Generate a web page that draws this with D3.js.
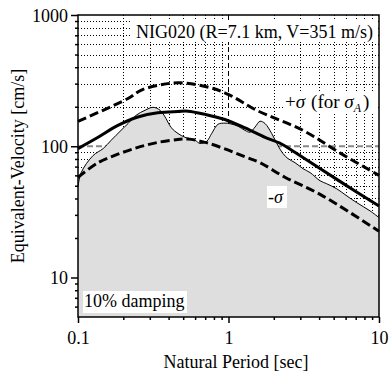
<!DOCTYPE html>
<html>
<head>
<meta charset="utf-8">
<script src="https://cdn.jsdelivr.net/npm/d3@7"></script>
<style>
  body { margin: 0; background: #fff; }
  svg { display: block; }
  text { font-family: "Liberation Serif", "Times New Roman", serif; font-size: 18px; fill: #000; }
</style>
</head>
<body>
<svg id="chart" width="389" height="376"></svg>
<script>
// observed spectrum (thin line, grey fill below it)
const obsPeriod = [0.1, 0.105, 0.126, 0.147, 0.166, 0.193, 0.215, 0.243, 0.279, 0.315, 0.351, 0.384, 0.415, 0.462, 0.514, 0.599, 0.647, 0.716, 0.773, 0.851, 0.948, 1.023, 1.157, 1.288, 1.39, 1.5, 1.619, 1.749, 1.937, 2.133, 2.302, 2.485, 2.766, 3.126, 3.483, 4.056, 4.49, 5.24, 6.10, 7.11, 8.71, 10];
const obsVel = [49, 63, 85, 96, 111, 132, 149, 172, 188, 198, 188, 163, 139, 125, 117, 111, 105, 109, 125, 147, 150, 148.5, 142, 132, 128, 140, 155, 149, 125, 101, 88, 80.5, 75, 67.5, 63, 54.6, 51.8, 47.4, 41.9, 37.2, 32.2, 28.6];

// median prediction (thick solid)
const medPeriod = [0.1, 0.136, 0.184, 0.25, 0.339, 0.461, 0.538, 0.70, 0.947, 1.29, 1.75, 2.25, 2.76, 5.5, 10];
const medVel = [96, 117, 144, 167, 180, 184, 185, 175, 160, 138, 117, 104, 90, 54, 35];

// +sigma (for sigma_A), dashed
const upPeriod = [0.1, 0.215, 0.262, 0.351, 0.476, 0.752, 1.02, 1.535, 3.13, 5.49, 10];
const upVel = [155, 231, 267, 293, 304, 280, 245, 188, 132, 89, 60];

// -sigma, dashed
const loPeriod = [0.1, 0.136, 0.184, 0.25, 0.339, 0.461, 0.538, 0.70, 0.947, 1.29, 1.62, 2.37, 4.06, 10];
const loVel = [58, 75, 87, 98, 107, 112.5, 113.5, 107, 95.5, 83, 75, 58, 43, 22.5];

const xMajor = [0.1, 1, 10];
const yMajor = [10, 100, 1000];
const xMinor = [0.2, 0.3, 0.4, 0.5, 0.6, 0.7, 0.8, 0.9, 2, 3, 4, 5, 6, 7, 8, 9];
const yMinor = [6, 7, 8, 9, 20, 30, 40, 50, 60, 70, 80, 90, 200, 300, 400, 500, 600, 700, 800, 900];

const pLeft = 78, pRight = 379, pTop = 15, pBottom = 317;

const svg = d3.select('#chart');

const x = d3.scaleLog().domain([0.1, 10]).range([pLeft, pRight]);
const y = d3.scaleLog().domain([5, 1000]).range([pBottom, pTop]);

const zip = (a, b) => a.map((d, i) => ({ t: d, v: b[i] }));

// grid
const grid = svg.append('g');
grid.selectAll('.gx')
  .data(xMinor)
  .enter().append('line')
    .attr('x1', d => Math.round(x(d)) + 0.5).attr('x2', d => Math.round(x(d)) + 0.5)
    .attr('y1', pTop).attr('y2', pBottom)
    .attr('stroke', '#000').attr('stroke-width', 1)
    .attr('stroke-dasharray', '1,2');
grid.selectAll('.gy')
  .data(yMinor)
  .enter().append('line')
    .attr('x1', pLeft).attr('x2', pRight)
    .attr('y1', d => Math.round(y(d)) + 0.5).attr('y2', d => Math.round(y(d)) + 0.5)
    .attr('stroke', '#000').attr('stroke-width', 1)
    .attr('stroke-dasharray', '1,2');
grid.append('line')
    .attr('x1', x(1)).attr('x2', x(1))
    .attr('y1', pTop).attr('y2', pBottom)
    .attr('stroke', '#000').attr('stroke-width', 1)
    .attr('stroke-dasharray', '5,3');
grid.append('line')
    .attr('x1', pLeft).attr('x2', pRight)
    .attr('y1', y(100)).attr('y2', y(100))
    .attr('stroke', '#888').attr('stroke-width', 2)
    .attr('stroke-dasharray', '6,3');

// observed: grey area + thin line
const obs = zip(obsPeriod, obsVel);
const area = d3.area()
  .x(d => x(d.t))
  .y0(pBottom)
  .y1(d => y(d.v))
  .curve(d3.curveCatmullRom.alpha(0.5));
svg.append('path')
  .datum(obs)
  .attr('d', area)
  .attr('fill', '#dedede');

const line = d3.line()
  .x(d => x(d.t))
  .y(d => y(d.v))
  .curve(d3.curveCatmullRom.alpha(0.5));

svg.append('path')
  .datum(obs)
  .attr('d', line)
  .attr('fill', 'none')
  .attr('stroke', '#000')
  .attr('stroke-width', 1);

svg.append('path')
  .datum(zip(medPeriod, medVel))
  .attr('d', line)
  .attr('fill', 'none')
  .attr('stroke', '#000')
  .attr('stroke-width', 3);

[zip(upPeriod, upVel), zip(loPeriod, loVel)].forEach(s => {
  svg.append('path')
    .datum(s)
    .attr('d', line)
    .attr('fill', 'none')
    .attr('stroke', '#000')
    .attr('stroke-width', 3)
    .attr('stroke-dasharray', '9,4');
});

// labels with white boxes
svg.append('rect').attr('x', 131).attr('y', 20).attr('width', 246).attr('height', 22).attr('fill', '#fff');
svg.append('text')
  .attr('x', 373).attr('y', 38)
  .attr('text-anchor', 'end')
  .text('NIG020 (R=7.1 km, V=351 m/s)');

svg.append('rect').attr('x', 283).attr('y', 92).attr('width', 94).attr('height', 22).attr('fill', '#fff');
const sigA = svg.append('text').attr('x', 285).attr('y', 108).attr('font-size', '19px').style('font-size', '19px');
sigA.append('tspan').text('+');
sigA.append('tspan').attr('font-style', 'italic').text('σ');
sigA.append('tspan').attr('dx', 6).text('(for ');
sigA.append('tspan').attr('font-style', 'italic').text('σ');
sigA.append('tspan').attr('font-style', 'italic').style('font-size', '12px').attr('dy', 4).text('A');
sigA.append('tspan').attr('dy', -4).attr('dx', 2).text(')');

svg.append('rect').attr('x', 267).attr('y', 186).attr('width', 20).attr('height', 22).attr('fill', '#fff');
const sigM = svg.append('text').attr('x', 268).attr('y', 203);
sigM.append('tspan').text('-');
sigM.append('tspan').attr('font-style', 'italic').text('σ');

svg.append('rect').attr('x', 83).attr('y', 291).attr('width', 104).attr('height', 22).attr('fill', '#fff');
svg.append('text').attr('x', 84).attr('y', 307).text('10% damping');

// axes
const fmt = d => d3.format('')(d);
svg.append('g')
  .attr('transform', `translate(${pLeft},0)`)
  .call(d3.axisLeft(y).tickValues(yMinor).tickSize(3).tickFormat(''))
  .call(g => g.select('.domain').remove());
svg.append('g')
  .attr('transform', `translate(${pLeft},0)`)
  .call(d3.axisLeft(y).tickValues(yMajor).tickSize(7).tickPadding(3).tickFormat(fmt))
  .call(g => g.select('.domain').remove())
  .call(g => g.selectAll('text').attr('font-size', 18).attr('font-family', null).attr('dy', '0.35em'));

svg.append('g')
  .attr('transform', `translate(0,${pBottom})`)
  .call(d3.axisBottom(x).tickValues(xMinor).tickSize(3).tickFormat(''))
  .call(g => g.select('.domain').remove());
svg.append('g')
  .attr('transform', `translate(0,${pBottom})`)
  .call(d3.axisBottom(x).tickValues(xMajor).tickSize(6).tickPadding(8).tickFormat(fmt))
  .call(g => g.select('.domain').remove())
  .call(g => g.selectAll('text').attr('font-size', 18).attr('font-family', null));

svg.selectAll('.tick line').attr('stroke', '#000').attr('stroke-width', 1.5);

svg.append('rect')
  .attr('x', pLeft).attr('y', pTop)
  .attr('width', pRight - pLeft).attr('height', pBottom - pTop)
  .attr('fill', 'none')
  .attr('stroke', '#000')
  .attr('stroke-width', 1.5);

svg.append('text')
  .attr('transform', `translate(24,${(pTop + pBottom) / 2}) rotate(-90)`)
  .attr('text-anchor', 'middle')
  .text('Equivalent-Velocity [cm/s]');

svg.append('text')
  .attr('x', 236).attr('y', 368)
  .attr('text-anchor', 'middle')
  .text('Natural Period [sec]');
</script>
</body>
</html>
